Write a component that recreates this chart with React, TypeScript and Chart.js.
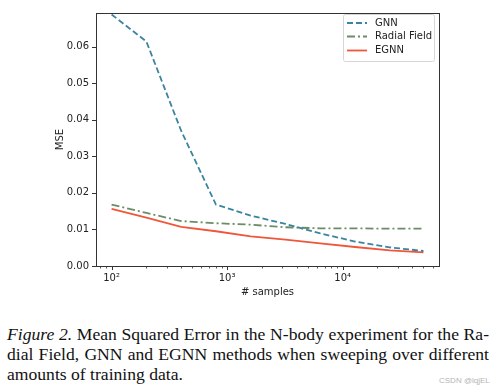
import React, { useEffect, useRef } from "react";
import { Chart, registerables } from "chart.js";

Chart.register(...registerables);

const samples = [100, 200, 400, 800, 1600, 3200, 6400, 12800, 25600, 50000];
const gnnMSE = [0.0688, 0.0614, 0.037, 0.0168, 0.0138, 0.0115, 0.0089, 0.0067, 0.0051, 0.0041];
const radialMSE = [0.0168, 0.0145, 0.0123, 0.0117, 0.0113, 0.0106, 0.0103, 0.0103, 0.0102, 0.0102];
const egnnMSE = [0.0156, 0.0132, 0.0107, 0.0095, 0.0081, 0.0072, 0.0062, 0.0052, 0.0043, 0.0037];

const seriesNames = ["GNN", "Radial Field", "EGNN"];
const seriesColors = ["#3b84a0", "#6b8d66", "#f0563a"];
const seriesDashes = [[6, 3], [8, 3, 2, 3], []];

const yTicks = [0, 0.01, 0.02, 0.03, 0.04, 0.05, 0.06];
const xMajorTicks = [100, 1000, 10000];
const xTickLabels = ["10²", "10³", "10⁴"];
const xMinorTicks = [80, 90, 200, 300, 400, 500, 600, 700, 800, 900, 2000, 3000, 4000, 5000, 6000, 7000, 8000, 9000, 20000, 30000, 40000, 50000, 60000];

const xTitle = "# samples";
const yTitle = "MSE";

const captionLines = [
  ["Figure 2.", " Mean Squared Error in the N-body experiment for the Ra-"],
  ["", "dial Field, GNN and EGNN methods when sweeping over different"],
  ["", "amounts of training data."],
];
const watermark = "CSDN @lqjEL";

const FONT = '"DejaVu Sans", sans-serif';

const decorPlugin = {
  id: "decor",
  afterDraw(chart: any) {
    const { ctx, chartArea } = chart;
    const { left, right, top, bottom } = chartArea;
    const xs = chart.scales.x;
    const ys = chart.scales.y;
    ctx.save();
    // frame
    ctx.strokeStyle = "#333";
    ctx.lineWidth = 1;
    ctx.setLineDash([]);
    ctx.strokeRect(Math.round(left) + 0.5, Math.round(top) + 0.5, Math.round(right - left), Math.round(bottom - top));
    // y ticks
    ctx.beginPath();
    yTicks.forEach((v) => {
      const y = Math.round(ys.getPixelForValue(v)) + 0.5;
      ctx.moveTo(left - 4, y);
      ctx.lineTo(left, y);
    });
    // x major ticks
    xMajorTicks.forEach((v) => {
      const x = Math.round(xs.getPixelForValue(v)) + 0.5;
      ctx.moveTo(x, bottom);
      ctx.lineTo(x, bottom + 4);
    });
    ctx.stroke();
    ctx.beginPath();
    ctx.lineWidth = 0.8;
    xMinorTicks.forEach((v) => {
      const x = Math.round(xs.getPixelForValue(v)) + 0.5;
      if (x < left || x > right) return;
      ctx.moveTo(x, bottom);
      ctx.lineTo(x, bottom + 2.5);
    });
    ctx.stroke();
    // axis titles
    ctx.fillStyle = "#222";
    ctx.font = `10px ${FONT}`;
    ctx.textAlign = "center";
    ctx.textBaseline = "middle";
    ctx.fillText(xTitle, (left + right) / 2, 292);
    ctx.save();
    ctx.translate(60, (top + bottom) / 2);
    ctx.rotate(-Math.PI / 2);
    ctx.fillText(yTitle, 0, 0);
    ctx.restore();
    // legend
    const bx = 343.5, by = 14.5, bw = 91, bh = 47;
    ctx.beginPath();
    const r = 2;
    ctx.moveTo(bx + r, by);
    ctx.lineTo(bx + bw - r, by);
    ctx.quadraticCurveTo(bx + bw, by, bx + bw, by + r);
    ctx.lineTo(bx + bw, by + bh - r);
    ctx.quadraticCurveTo(bx + bw, by + bh, bx + bw - r, by + bh);
    ctx.lineTo(bx + r, by + bh);
    ctx.quadraticCurveTo(bx, by + bh, bx, by + bh - r);
    ctx.lineTo(bx, by + r);
    ctx.quadraticCurveTo(bx, by, bx + r, by);
    ctx.closePath();
    ctx.fillStyle = "rgba(255,255,255,0.85)";
    ctx.fill();
    ctx.strokeStyle = "#d6d6d6";
    ctx.lineWidth = 1;
    ctx.stroke();
    const rowsY = [23, 36.5, 50.5];
    chart.data.datasets.forEach((ds: any, i: number) => {
      const y = rowsY[i];
      ctx.beginPath();
      ctx.strokeStyle = ds.borderColor;
      ctx.lineWidth = ds.borderWidth;
      ctx.setLineDash(ds.borderDash || []);
      ctx.moveTo(347, y);
      ctx.lineTo(367, y);
      ctx.stroke();
      ctx.setLineDash([]);
      ctx.fillStyle = "#222";
      ctx.textAlign = "left";
      ctx.textBaseline = "middle";
      ctx.fillText(ds.label, 375, y);
    });
    ctx.restore();
  },
};

export default function App() {
  const ref = useRef<HTMLCanvasElement | null>(null);
  useEffect(() => {
    if (!ref.current) return;
    const mk = (vals: number[]) => samples.map((s, i) => ({ x: s, y: vals[i] }));
    const all = [gnnMSE, radialMSE, egnnMSE];
    const chart = new Chart(ref.current, {
      type: "line",
      data: {
        datasets: all.map((vals, i) => ({
          label: seriesNames[i],
          data: mk(vals),
          borderColor: seriesColors[i],
          backgroundColor: seriesColors[i],
          borderWidth: 1.8,
          borderDash: seriesDashes[i],
          pointRadius: 0,
          tension: 0,
          fill: false,
        })),
      },
      options: {
        animation: false,
        responsive: false,
        maintainAspectRatio: false,
        layout: { padding: { left: 0, top: 9, right: 58, bottom: 0 } },
        plugins: { legend: { display: false }, title: { display: false }, tooltip: { enabled: false } },
        scales: {
          x: {
            type: "logarithmic",
            min: 73.3,
            max: 68200,
            grid: { display: false, drawTicks: false },
            border: { display: false },
            afterBuildTicks: (scale: any) => {
              scale.ticks = xMajorTicks.map((v) => ({ value: v }));
            },
            afterFit: (scale: any) => {
              scale.height = 34;
            },
            ticks: {
              autoSkip: false,
              maxRotation: 0,
              padding: 6,
              color: "#222",
              font: { family: FONT, size: 10 },
              callback: (v: any) => {
                const idx = xMajorTicks.indexOf(Number(v));
                return idx >= 0 ? xTickLabels[idx] : "";
              },
            },
          },
          y: {
            type: "linear",
            min: 0,
            max: 0.0692,
            grid: { display: false, drawTicks: false },
            border: { display: false },
            afterBuildTicks: (scale: any) => {
              scale.ticks = yTicks.map((v) => ({ value: v }));
            },
            afterFit: (scale: any) => {
              scale.width = 96;
            },
            ticks: {
              autoSkip: false,
              padding: 7,
              color: "#222",
              font: { family: FONT, size: 10 },
              callback: (v: any) => Number(v).toFixed(2),
            },
          },
        },
      },
      plugins: [decorPlugin],
    } as any);
    return () => chart.destroy();
  }, []);

  const lineStyle = (justify: boolean, top: number): React.CSSProperties => ({
    position: "absolute",
    left: 7,
    top,
    width: 482,
    fontFamily: '"Liberation Serif", "Times New Roman", serif',
    fontSize: 17.6,
    lineHeight: "20px",
    color: "#111",
    whiteSpace: "nowrap",
    wordSpacing: justify ? "-1.5px" : "0px",
    textAlign: justify ? "justify" : "left",
    textAlignLast: justify ? "justify" : "left",
  } as React.CSSProperties);

  return (
    <div style={{ position: "absolute", left: 0, top: 0, width: 497, height: 391, background: "#fff", overflow: "hidden" }}>
      <canvas ref={ref} width={497} height={300} style={{ position: "absolute", left: 0, top: 0, width: 497, height: 300 }} />
      {captionLines.map((ln, i) => (
        <div key={i} style={lineStyle(i < 2, 324 + i * 20)}>
          {ln[0] ? <i>{ln[0]}</i> : null}
          {ln[1]}
        </div>
      ))}
      <div
        style={{
          position: "absolute",
          left: 439,
          top: 376,
          fontFamily: '"Liberation Sans", Arial, sans-serif',
          fontSize: 8,
          lineHeight: "10px",
          color: "#b5b5b5",
          whiteSpace: "nowrap",
        }}
      >
        {watermark}
      </div>
    </div>
  );
}
